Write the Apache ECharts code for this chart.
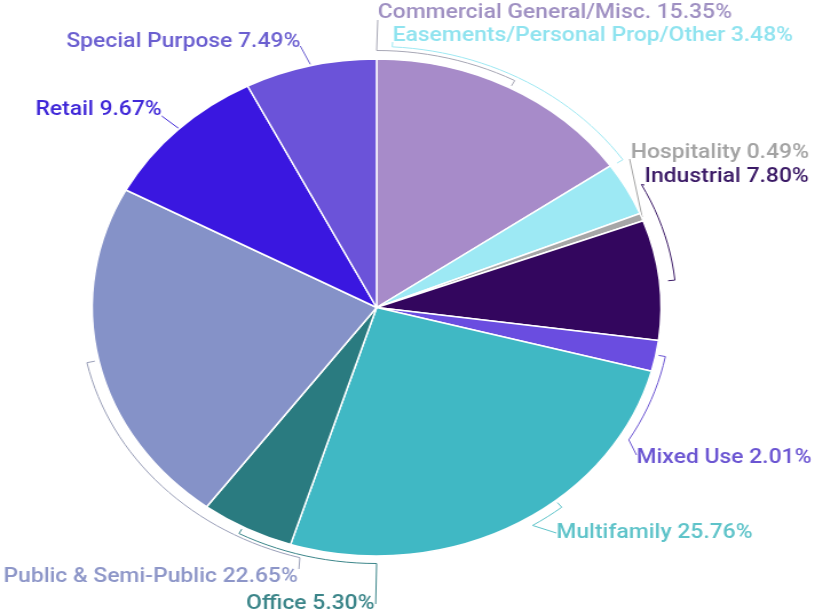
<!DOCTYPE html>
<html>
<head>
<meta charset="utf-8">
<script src="https://cdn.jsdelivr.net/npm/echarts@6/dist/echarts.min.js"></script>
<style>
html,body{margin:0;padding:0;background:#fff;overflow:hidden;}
#wrap{width:815px;height:614px;overflow:hidden;}
#chart{width:712px;height:614px;transform-origin:0 0;transform:scaleX(1.1447);}
</style>
</head>
<body>
<div id="wrap"><div id="chart"></div></div>
<script>
// ---- data ----
const categories = [
  'Commercial General/Misc.',
  'Easements/Personal Prop/Other',
  'Hospitality',
  'Industrial',
  'Mixed Use',
  'Multifamily',
  'Office',
  'Public & Semi-Public',
  'Retail',
  'Special Purpose'
];
const shares = [15.35, 3.48, 0.49, 7.80, 2.01, 25.76, 5.30, 22.65, 9.67, 7.49];

// ---- styles / layout ----
const sliceColors = ['#a78bc9','#9de9f4','#a6a6a6','#33065e','#6a4de0','#40b8c4','#2a7b80','#8592c8','#3a17e0','#6b53d9'];
const labelColors = ['#9f90c2','#8fe3ef','#a3a3a3','#3b1a66','#6b55d2','#5ec3c9','#3b8589','#8d96c8','#4028d8','#6b5fd0'];
const lineColors  = ['#a7a7b5','#9ee8f2','#a3a3a3','#3b1a66','#6b55d2','#5ec3c9','#3b8589','#9a9fb8','#4028d8','#6b5fd0'];
// label anchor (left x, middle y) in the unscaled layer
const labelPos = [
  [330, 13], [343, 36], [551, 153], [563, 177], [556, 458],
  [486, 533], [215, 604], [3, 577], [31, 110], [58, 42]
];
const CX = 329, CY = 307.5, R = 248.5;

function pt(deg, r) {
  const a = deg * Math.PI / 180;
  return [CX + r * Math.sin(a), CY - r * Math.cos(a)];
}
function arc(d1, d2, r) {
  const n = Math.max(2, Math.ceil(Math.abs(d2 - d1) / 2));
  const out = [];
  for (let k = 0; k <= n; k++) out.push(pt(d1 + (d2 - d1) * k / n, r));
  return out;
}
// bracket-style leader lines; rect = label box
const leaders = [
  rc => [[rc.x, rc.y + rc.height - 3], pt(0, 257)].concat(arc(0, 28, 257), [pt(28, 251)]),
  rc => [[rc.x, rc.y + rc.height - 4]].concat(arc(3, 55.5, 261), [pt(55.5, 255)]),
  rc => [[rc.x - 1, rc.y + rc.height - 4], pt(68.7, 249)],
  rc => [[rc.x, rc.y + rc.height - 2]].concat(arc(62, 84, 262), [pt(84, 256)]),
  rc => [pt(101, 251)].concat(arc(101, 121, 257), [[rc.x, rc.y + rc.height / 2 - 3]]),
  rc => [pt(141, 251)].concat(arc(141, 148, 257), [[rc.x, rc.y + rc.height / 2]]),
  rc => [pt(208, 251)].concat(arc(208, 180, 256), [[rc.x + rc.width + 1, rc.y + rc.height / 2]]),
  rc => [pt(257.7, 252)].concat(arc(257.7, 195, 259), [[rc.x + rc.width + 1, rc.y + 2]]),
  rc => [[rc.x + rc.width, rc.y + rc.height - 4], pt(316, 249)],
  rc => [[rc.x + rc.width, rc.y + rc.height - 6], pt(346.6, 250)]
];

const data = categories.map((c, i) => ({
  name: c,
  value: shares[i],
  itemStyle: { color: sliceColors[i] },
  label: { color: labelColors[i] },
  labelLine: { lineStyle: { color: lineColors[i] } }
}));

const chart = echarts.init(document.getElementById('chart'), null, { renderer: 'canvas' });
chart.setOption({
  animation: false,
  series: [{
    type: 'pie',
    center: [CX, CY],
    radius: [0, R],
    startAngle: 90,
    clockwise: true,
    data: data,
    itemStyle: { borderColor: '#ffffff', borderWidth: 1.5 },
    label: {
      show: true,
      formatter: p => p.name + ' ' + p.value.toFixed(2) + '%',
      fontFamily: 'Roboto',
      fontWeight: 500,
      fontSize: 20,
      overflow: 'none'
    },
    labelLine: { show: true, length: 10, length2: 10, smooth: false, lineStyle: { width: 1 } },
    labelLayout: function (params) {
      const i = params.dataIndex;
      const p = labelPos[i];
      const w = params.labelRect.width, h = params.labelRect.height;
      const rc = { x: p[0], y: p[1] - h / 2, width: w, height: h };
      return {
        x: p[0], y: p[1], align: 'left', verticalAlign: 'middle',
        labelLinePoints: leaders[i](rc)
      };
    }
  }]
});
</script>
</body>
</html>
